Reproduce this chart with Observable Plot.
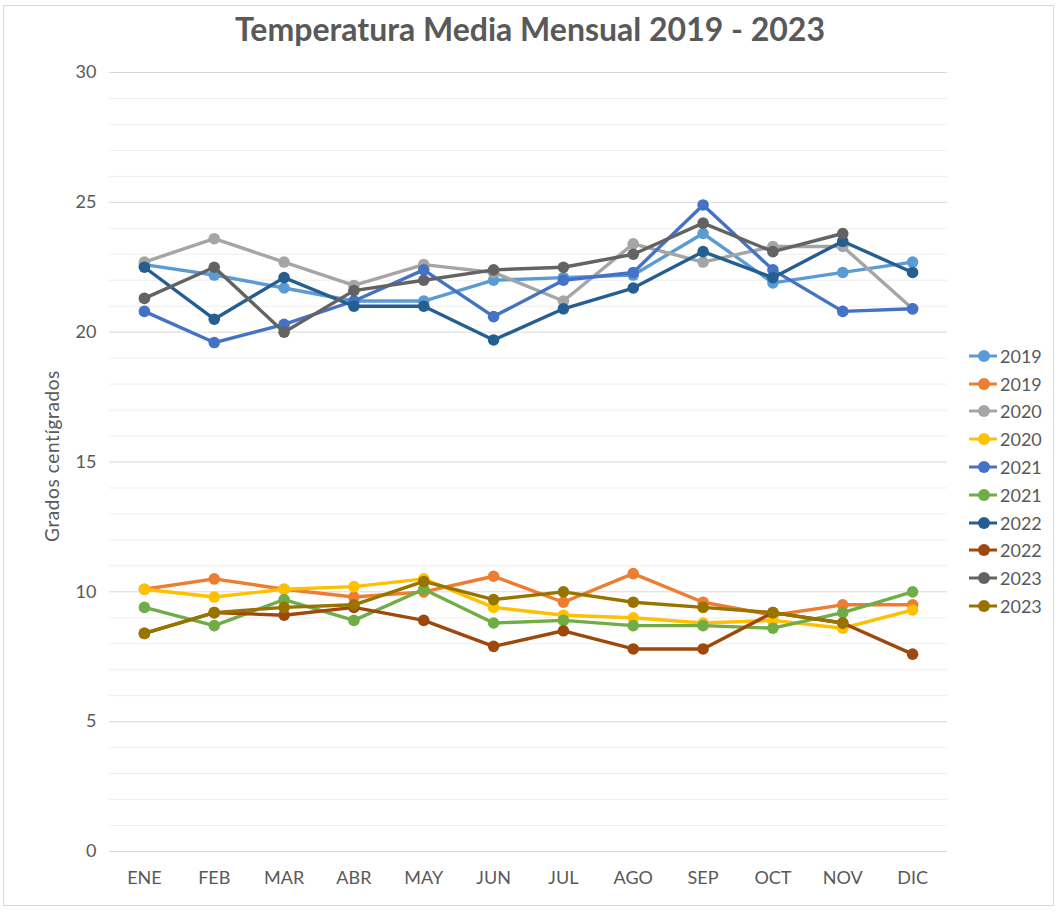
<!DOCTYPE html>
<html>
<head>
<meta charset="utf-8">
<script src="https://cdn.jsdelivr.net/npm/d3@7"></script>
<script src="https://cdn.jsdelivr.net/npm/@observablehq/plot@0.6"></script>
<style>
  html, body { margin: 0; padding: 0; background: #fff; }
  #wrap { position: relative; width: 1060px; height: 912px; font-family: Lato, "Open Sans", sans-serif; }
  #frame { position: absolute; left: 3px; top: 5px; width: 1051px; height: 901px; border: 1px solid #D9D9D9; box-sizing: border-box; pointer-events: none; }
  #title { position: absolute; left: 0; width: 1060px; top: 9px; text-align: center; font-size: 32px; font-weight: bold; color: #595959; line-height: 40px; }
  #ylabel { position: absolute; left: 51px; top: 456px; transform: translate(-50%, -50%) rotate(-90deg); font-size: 19px; letter-spacing: 0.6px; color: #595959; white-space: nowrap; }
  #legend { position: absolute; left: 968px; top: 342px; font-size: 18px; color: #595959; }
  #legend .row { display: flex; align-items: center; height: 27.8px; }
  #legend svg { margin-right: 2px; }
  #chart { position: absolute; left: 0; top: 0; }
</style>
</head>
<body>
<div id="wrap">
  <div id="chart"></div>
  <div id="title"></div>
  <div id="ylabel"></div>
  <div id="legend"></div>
  <div id="frame"></div>
</div>
<script>
const titleText = "Temperatura Media Mensual 2019 - 2023";
const yLabel = "Grados centígrados";
const months = ["ENE","FEB","MAR","ABR","MAY","JUN","JUL","AGO","SEP","OCT","NOV","DIC"];
const seriesLabels = ["2019","2019","2020","2020","2021","2021","2022","2022","2023","2023"];
const seriesColors = ["#5B9BD5","#ED7D31","#A5A5A5","#FFC000","#4472C4","#70AD47","#255E91","#9E480E","#636363","#997300"];
const yTicks = [0, 5, 10, 15, 20, 25, 30];

const s2019a = [22.6, 22.2, 21.7, 21.2, 21.2, 22.0, 22.1, 22.2, 23.8, 21.9, 22.3, 22.7];
const s2019b = [10.1, 10.5, 10.1, 9.8, 10.0, 10.6, 9.6, 10.7, 9.6, 9.1, 9.5, 9.5];
const s2020a = [22.7, 23.6, 22.7, 21.8, 22.6, 22.3, 21.2, 23.4, 22.7, 23.3, 23.3, 20.9];
const s2020b = [10.1, 9.8, 10.1, 10.2, 10.5, 9.4, 9.1, 9.0, 8.8, 8.9, 8.6, 9.3];
const s2021a = [20.8, 19.6, 20.3, 21.2, 22.4, 20.6, 22.0, 22.3, 24.9, 22.4, 20.8, 20.9];
const s2021b = [9.4, 8.7, 9.7, 8.9, 10.1, 8.8, 8.9, 8.7, 8.7, 8.6, 9.2, 10.0];
const s2022a = [22.5, 20.5, 22.1, 21.0, 21.0, 19.7, 20.9, 21.7, 23.1, 22.1, 23.5, 22.3];
const s2022b = [8.4, 9.2, 9.1, 9.4, 8.9, 7.9, 8.5, 7.8, 7.8, 9.2, 8.8, 7.6];
const s2023a = [21.3, 22.5, 20.0, 21.6, 22.0, 22.4, 22.5, 23.0, 24.2, 23.1, 23.8, null];
const s2023b = [8.4, 9.2, 9.4, 9.5, 10.4, 9.7, 10.0, 9.6, 9.4, 9.2, 8.8, null];

const seriesValues = [s2019a, s2019b, s2020a, s2020b, s2021a, s2021b, s2022a, s2022b, s2023a, s2023b];

document.getElementById("title").textContent = titleText;
document.getElementById("ylabel").textContent = yLabel;

const minorTicks = d3.range(0, 31, 1).filter(v => v % 5 !== 0);

const marks = [
  Plot.ruleY(minorTicks, {stroke: "#EEEEEE", strokeWidth: 1}),
  Plot.ruleY(yTicks, {stroke: "#D9D9D9", strokeWidth: 1}),
];
seriesValues.forEach((vals, si) => {
  const data = months.map((m, i) => ({month: m, value: vals[i]})).filter(d => d.value != null);
  marks.push(Plot.line(data, {x: "month", y: "value", stroke: seriesColors[si], strokeWidth: 3.4, curve: "linear"}));
  marks.push(Plot.dot(data, {x: "month", y: "value", fill: seriesColors[si], r: 5.8, stroke: "none"}));
});

const chart = Plot.plot({
  width: 1060,
  height: 912,
  marginTop: 72,
  marginBottom: 61,
  marginLeft: 109,
  marginRight: 113,
  style: {fontFamily: "Lato, 'Open Sans', sans-serif", fontSize: "18px", color: "#595959", background: "transparent"},
  x: {type: "point", domain: months, padding: 0.5, round: false, label: null, tickSize: 0, tickPadding: 20},
  y: {domain: [0, 30], ticks: yTicks, label: null, tickSize: 0, tickPadding: 13},
  marks
});
document.getElementById("chart").appendChild(chart);

const legend = document.getElementById("legend");
seriesLabels.forEach((lab, i) => {
  const row = document.createElement("div");
  row.className = "row";
  row.innerHTML = `<svg width="30" height="14"><line x1="1" y1="7" x2="29" y2="7" stroke="${seriesColors[i]}" stroke-width="3"/><circle cx="16" cy="7" r="6" fill="${seriesColors[i]}"/></svg><span>${lab}</span>`;
  legend.appendChild(row);
});
</script>
</body>
</html>
